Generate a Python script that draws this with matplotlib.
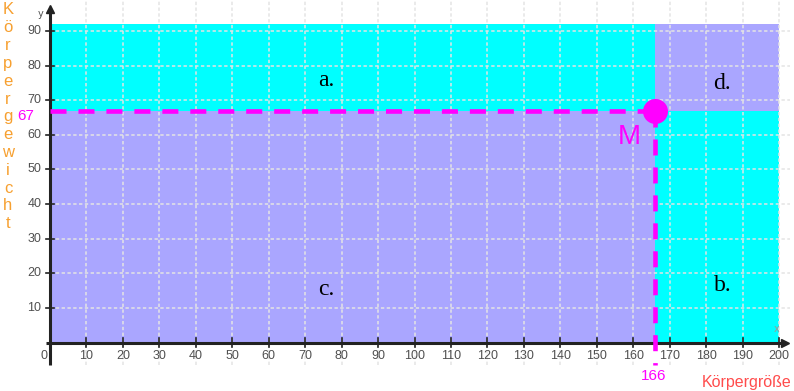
import matplotlib
matplotlib.use('Agg')
import matplotlib.pyplot as plt

# chart values
x_ticks = list(range(0, 201, 10))
y_ticks = list(range(10, 91, 10))
m_x, m_y = 166, 67
x_right, y_top = 200, 92
x_title = 'Körpergröße'
y_title = 'Körpergewicht'
region_names = ['a.', 'b.', 'c.', 'd.']

lav = '#aaa6ff'
cyan = '#00ffff'
mag = '#ff00ff'
tick_col = '#505050'

fig = plt.figure(figsize=(7.94, 3.91), dpi=100)
ax = fig.add_axes([0, 0, 1, 1])
ax.set_xlim(-13.72, 204.1)
ax.set_ylim(-14.01, 98.96)
ax.axis('off')

# four quadrants around M
ax.fill_between([0, m_x], m_y, y_top, color=cyan, lw=0, zorder=0)
ax.fill_between([m_x, x_right], m_y, y_top, color=lav, lw=0, zorder=0)
ax.fill_between([0, m_x], 0, m_y, color=lav, lw=0, zorder=0)
ax.fill_between([m_x, x_right], 0, m_y, color=cyan, lw=0, zorder=0)

# grid
grid_ls = (0, (2.2, 1.6))
for xv in x_ticks[1:]:
    ax.plot([xv, xv], [-6.5, 99], color='#e4e4e4', lw=1.1, ls=grid_ls, zorder=1)
for yv in y_ticks:
    ax.plot([0, 203], [yv, yv], color='#e4e4e4', lw=1.1, ls=grid_ls, zorder=1)

# axes with arrows
ax.plot([-1.1, 201.5], [0, 0], color='#222222', lw=2.2, zorder=3, solid_capstyle='butt')
ax.plot([0, 0], [-6.5, 96.5], color='#222222', lw=2.2, zorder=3, solid_capstyle='butt')
ax.plot([201.5], [0], marker='>', color='#222222', ms=6, zorder=3)
ax.plot([0], [96.5], marker='^', color='#222222', ms=6, zorder=3)

for xv in x_ticks[1:]:
    ax.plot([xv, xv], [-1.2, 1.2], color='#222222', lw=1.2, zorder=3)
    ax.text(xv, -3.9, str(xv), ha='center', va='center', fontsize=9,
            color=tick_col, family='Liberation Sans')
ax.text(-1.6, -3.9, '0', ha='center', va='center', fontsize=9,
        color=tick_col, family='Liberation Sans')
for yv in y_ticks:
    ax.plot([-1.1, 1.1], [yv, yv], color='#222222', lw=1.2, zorder=3)
    ax.text(-2.4, yv, str(yv), ha='right', va='center', fontsize=9,
            color=tick_col, family='Liberation Sans')
ax.text(-2.7, 94.8, 'y', ha='center', va='center', fontsize=7, color=tick_col)
ax.text(199.3, 3.9, 'x', ha='center', va='center', fontsize=7, color='#999999')

# dashed guides to M
dash = (0, (3.5, 2.6))
ax.plot([0, m_x], [m_y, m_y], color=mag, lw=3.3, ls=dash, zorder=4,
        dash_capstyle='butt')
ax.plot([m_x, m_x], [m_y, -6.5], color=mag, lw=3.3, ls=dash, zorder=4,
        dash_capstyle='butt')
ax.plot([m_x], [m_y], marker='o', color=mag, ms=17, zorder=5)
ax.text(158.8, 59.4, 'M', ha='center', va='center', fontsize=20, color=mag,
        family='Liberation Sans', zorder=5)
ax.text(-4.4, m_y - 1.6, str(m_y), ha='right', va='center', fontsize=11,
        color=mag, family='Liberation Sans')
ax.text(m_x - 0.5, -9.8, str(m_x), ha='center', va='center', fontsize=11,
        color=mag, family='Liberation Sans')

# region letters
pos = [(75.7, 75.8), (184.6, 16.5), (75.7, 15.2), (184.4, 74.9)]
for name, (px, py) in zip(region_names, pos):
    ax.text(px, py, name, ha='center', va='center', fontsize=17,
            family='Liberation Serif', color='black', zorder=6)

# axis titles
ax.text(191.2, -11.5, x_title, ha='center', va='center', fontsize=11.5,
        color='#ff4c4c', family='Liberation Sans')
for i, ch in enumerate(y_title):
    fig.text(8 / 794, 1 - (10 + i * 17.8) / 391, ch, ha='center', va='center',
             fontsize=12, color='#f7a030', family='Liberation Sans')

fig.savefig('out.png', dpi=100)
